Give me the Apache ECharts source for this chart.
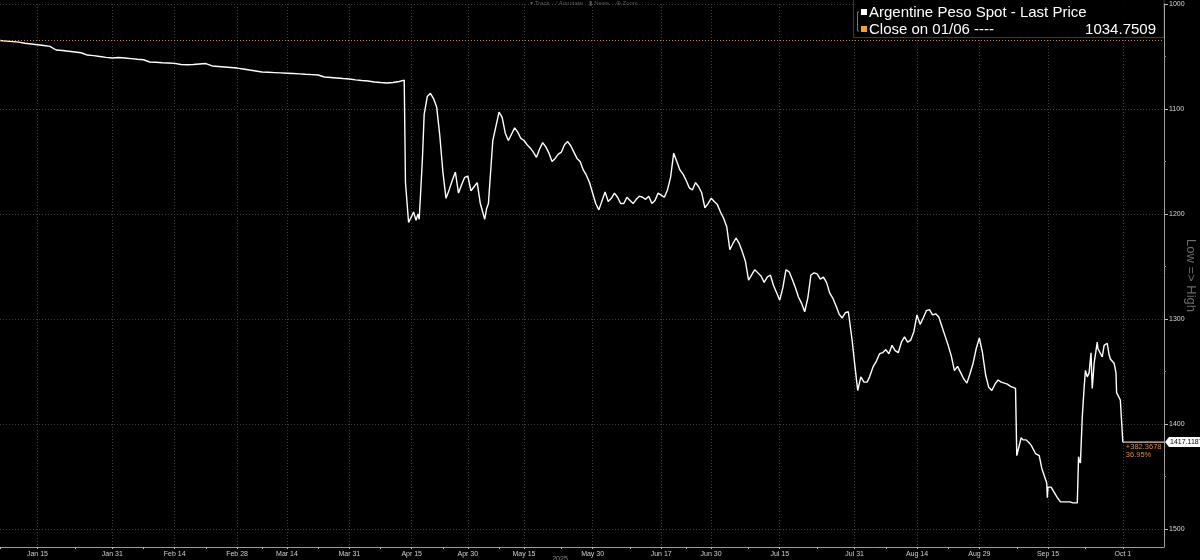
<!DOCTYPE html>
<html><head><meta charset="utf-8">
<style>html,body{margin:0;padding:0;background:#000;}#c{width:1200px;height:560px;}</style>
<script src="https://cdn.jsdelivr.net/npm/echarts@6/dist/echarts.min.js"></script>
</head><body><div id="c"></div>
<script>
// Trading days on the axis (2025); day index 0 = Jan 7
const tradingDays = {
  Jan:[7,8,9,10,13,14,15,16,17,20,21,22,23,24,27,28,29,30,31],
  Feb:[3,4,5,6,7,10,11,12,13,14,17,18,19,20,21,24,25,26,27,28],
  Mar:[5,6,7,10,11,12,13,14,17,18,19,20,21,25,26,27,28,31],
  Apr:[1,3,4,7,8,9,10,11,14,15,16,21,22,23,24,25,28,29,30],
  May:[5,6,7,8,9,12,13,14,15,16,19,20,21,22,23,26,27,28,29,30],
  Jun:[2,3,4,5,6,9,10,11,12,13,17,18,19,23,24,25,26,27,30],
  Jul:[1,2,3,4,7,8,9,10,11,14,15,16,17,18,21,22,23,24,25,28,29,30,31],
  Aug:[1,4,5,6,7,8,11,12,13,14,18,19,20,21,22,25,26,27,28,29],
  Sep:[1,2,3,4,5,8,9,10,11,12,15,16,17,18,19,22,23,24,25,26,29,30],
  Oct:[1,2,3,6,7,8,9]
};
// Tick labels on the date axis
const tickLabels = ['Jan 15','Jan 31','Feb 14','Feb 28','Mar 14','Mar 31','Apr 15','Apr 30','May 15','May 30','Jun 17','Jun 30','Jul 15','Jul 31','Aug 14','Aug 29','Sep 15','Oct 1'];
const yTicks = [1000, 1100, 1200, 1300, 1400, 1500];
const yMinorTicks = [1050, 1150, 1250, 1350, 1450];
// USD/ARS spot, daily last price (day index 0..180)
const price = [
 1034.8,1035.3,1035.8,1036.3,1037.4,1038.1,1038.8,1039.5,1040.3,1043.8,
 1044.3,1045.0,1045.7,1046.4,1048.6,1049.2,1050.0,1050.8,1051.4,1050.9,
 1051.4,1052.0,1052.6,1053.1,1055.2,1055.5,1055.9,1056.2,1056.5,1057.6,
 1057.8,1057.6,1057.1,1056.7,1059.0,1059.5,1060.0,1060.5,1061.0,1061.9,
 1062.9,1063.8,1064.8,1065.0,1065.3,1065.6,1065.9,1066.2,1066.5,1066.9,
 1067.2,1067.6,1069.5,1070.0,1070.5,1071.0,1071.4,1072.2,1072.9,1073.3,
 1074.3,1074.8,1075.2,1074.8,1073.8,1170,1202,1200,1105,1085,
 1098,1160,1177,1160,1172,1164,1174,1190,1195,1130,
 1103,1123,1124,1122,1130,1137,1146,1132,1142,1147,
 1141,1131,1141,1150,1163,1180,1196,1179,1185,1184,
 1190,1187,1186,1184,1183,1187,1182,1177,1142,1158,
 1168,1177,1174,1194,1185,1191,1204,1234,1223,1236,
 1263,1253,1259,1260,1268,1282,1253,1262,1279,1293,
 1258,1257,1260,1275,1287,1299,1293,1342,1355,1360,
 1345,1333,1329,1325,1332,1317,1320,1296,1299,1291,
 1295,1307,1325,1349,1351,1361,1342,1318,1353,1368,
 1358,1361,1364,1430,1415,1418,1428,1442,1460,1465,
 1474,1474,1475,1435,1349,1350,1328,1325,1338,1370,
 1417.1187
];
// Intraday points [day index, price]
const intraday = [
 [64.8,1072.5],[65.5,1208],[66.3,1198],[66.7,1206],[67.2,1205],[67.7,1150],[68.5,1088],[69.5,1090],[70.5,1125],
 [71.5,1185],[72.5,1168],[73.5,1180],[74.5,1165],[75.5,1178],[76.5,1170],[77.7,1205],[78.3,1190],
 [80.5,1108],[81.5,1130],[82.5,1118],[83.5,1128],[84.5,1134],[85.5,1141],[86.5,1138],[87.5,1136],[88.5,1150],
 [89.5,1143],[90.5,1134],[91.5,1135],[92.5,1147],[93.5,1158],[94.5,1170],[95.5,1190],
 [97.5,1188],[98.5,1180],[99.5,1190],[100.5,1184],[101.5,1190],[102.5,1183],[103.5,1186],[104.5,1190],[105.5,1180],
 [106.5,1184],[107.5,1165],[108.5,1150],[109.5,1162],[110.5,1175],[111.5,1170],[112.5,1180],[113.5,1190],[114.5,1188],
 [115.5,1198],[116.5,1212],[117.5,1228],[118.5,1228],[119.5,1245],[120.5,1258],[121.5,1256],[122.5,1265],[123.5,1258],
 [124.5,1275],[125.5,1270],[126.5,1255],[127.5,1270],[128.5,1285],[129.5,1280],[130.5,1256],[131.5,1262],[132.5,1265],
 [133.5,1280],[134.5,1295],[135.5,1294],[136.6,1320],[137.5,1368],[138.5,1360],[139.4,1355],[140.5,1340],[141.5,1332],
 [142.5,1333],[143.5,1330],[144.5,1322],[145.5,1322],[146.5,1312],[147.5,1305],[148.5,1292],[149.5,1296],[150.5,1298],
 [151.5,1316],[152.5,1335],[153.5,1345],[154.5,1357],[155.5,1352],[156.5,1328],[157.5,1332],[158.5,1365],[159.5,1362],
 [160.5,1360],[161.5,1362],[162.8,1366],[163.7,1413],[164.5,1415],[165.3,1420],[166.6,1430],[167.8,1456],[167.9,1470],
 [168.5,1460],[169.5,1470],[170.5,1474],[171.5,1474],[172.7,1475],[172.9,1431],[173.2,1437],[173.5,1393],[173.8,1365],
 [174.3,1355],[174.6,1351],[174.9,1332],[175.1,1366],[175.4,1342],[175.9,1322],[176.7,1336],[177.5,1323],[177.8,1334],
 [178.6,1342],[178.9,1351],[179.1,1370],[179.6,1377]
];
const closeRef = 1034.7509;
const closeLabel = 'Close on 01/06';
const seriesName = 'Argentine Peso Spot - Last Price';

const months = ['Jan','Feb','Mar','Apr','May','Jun','Jul','Aug','Sep','Oct'];
const categories = [];
months.forEach(m => tradingDays[m].forEach(d => categories.push(m + ' ' + d)));
const labelArr = tickLabels.map(l => categories.indexOf(l));
const midArr = [0];
for (let i = 0; i < labelArr.length - 1; i++) midArr.push(Math.round((labelArr[i] + labelArr[i+1]) / 2));

const points = price.map((v, i) => [i, v]).concat(intraday).sort((a, b) => a[0] - b[0]);
const lastDay = price.length - 1;
const last = price[lastDay];
const diff = last - closeRef;
const pct = diff / closeRef * 100;
const xMax = 186.6;

const FONT = '"Liberation Sans", Arial, sans-serif';
const chart = echarts.init(document.getElementById('c'), null, {renderer: 'canvas'});
chart.setOption({
  backgroundColor: '#000',
  animation: false,
  grid: {left: 0, right: 36, top: 4, bottom: 13, containLabel: false, outerBoundsMode: 'none'},
  xAxis: [{
    type: 'value', min: 0, max: xMax,
    axisLine: {onZero: false, lineStyle: {color: '#9a9a9a', width: 1}},
    axisTick: {show: true, length: 2, customValues: labelArr, lineStyle: {color: '#bbb'}},
    axisLabel: {customValues: labelArr, formatter: v => categories[Math.round(v)], color: '#d0d0d0', fontSize: 7, margin: 4, fontFamily: FONT},
    splitLine: {show: true, lineStyle: {color: '#3c3c3c', type: [1, 2]}}
  }, {
    type: 'value', min: 0, max: xMax, position: 'bottom',
    axisLine: {show: false, onZero: false},
    axisTick: {show: true, length: 2, customValues: midArr, lineStyle: {color: '#bbb'}},
    axisLabel: {show: false}, splitLine: {show: false}
  }],
  yAxis: [{
    type: 'value', position: 'right', inverse: true, min: 1000, max: 1517,
    axisLine: {show: true, onZero: false, lineStyle: {color: '#a0a0a0', width: 1}},
    axisTick: {show: true, length: 4, customValues: yTicks, lineStyle: {color: '#bbb'}},
    axisLabel: {customValues: yTicks, formatter: v => String(v), color: '#d8d8d8', fontSize: 7, margin: 5, fontFamily: FONT},
    splitLine: {show: true, lineStyle: {color: '#3c3c3c', type: [1, 2]}},
    name: 'Low => High', nameLocation: 'middle', nameRotate: -90, nameGap: 20, nameMoveOverlap: false,
    nameTextStyle: {color: '#6a6a6a', fontSize: 13, fontFamily: FONT}
  }, {
    type: 'value', position: 'right', inverse: true, min: 1000, max: 1517,
    axisLine: {show: false, onZero: false},
    axisTick: {show: true, length: 2, customValues: yMinorTicks, lineStyle: {color: '#888'}},
    axisLabel: {show: false}, splitLine: {show: false}
  }],
  series: [{
    name: seriesName, type: 'line', data: points, showSymbol: false, symbol: 'none',
    lineStyle: {color: '#ffffff', width: 1.4},
    markLine: {
      silent: true, symbol: 'none', label: {show: false},
      lineStyle: {color: '#d4802a', type: [1, 2], width: 1},
      data: [{yAxis: closeRef}]
    }
  }]
});

const xLast = chart.convertToPixel({xAxisIndex: 0}, lastDay);
const yLast = chart.convertToPixel({yAxisIndex: 0}, last);
const axisX = chart.convertToPixel({xAxisIndex: 0}, xMax);
chart.setOption({
  graphic: [
    {type: 'text', left: 530, top: 0, style: {text: '▾ Track    ⁄ Annotate    ▮ News    ⊕ Zoom', fill: '#5a5a5a', font: '6px ' + FONT}},
    {type: 'rect', shape: {x: 853.5, y: -1, width: axisX - 853.5, height: 38.5}, style: {fill: 'rgba(0,0,0,0.88)', stroke: '#3a3a3a', lineWidth: 1}},
    {type: 'polyline', shape: {points: [[859, 12], [857.5, 12], [857.5, 31], [859, 31]]}, style: {stroke: '#777', lineWidth: 1}},
    {type: 'rect', shape: {x: 861, y: 9, width: 6, height: 6}, style: {fill: '#ffffff'}},
    {type: 'text', x: 869, y: 13, style: {text: seriesName, fill: '#ffffff', font: '15px ' + FONT, verticalAlign: 'middle'}},
    {type: 'rect', shape: {x: 861, y: 26, width: 6, height: 6}, style: {fill: '#f0a030'}},
    {type: 'text', x: 869, y: 29.5, style: {text: closeLabel + ' ----', fill: '#ffffff', font: '15px ' + FONT, verticalAlign: 'middle'}},
    {type: 'text', x: 1156, y: 29.5, style: {text: closeRef.toFixed(4), fill: '#ffffff', font: '15px ' + FONT, align: 'right', verticalAlign: 'middle'}},
    {type: 'line', shape: {x1: xLast, y1: yLast, x2: axisX, y2: yLast}, style: {stroke: '#ffffff', lineWidth: 1}},
    {type: 'polygon', shape: {points: [[axisX + 1, yLast], [axisX + 5, yLast - 5], [1200, yLast - 5], [1200, yLast + 5], [axisX + 5, yLast + 5]]}, style: {fill: '#ffffff'}},
    {type: 'text', x: axisX + 6, y: yLast, style: {text: last.toFixed(4), fill: '#000', font: '7px ' + FONT, verticalAlign: 'middle'}},
    {type: 'text', x: xLast + 3, y: yLast + 4.5, style: {text: '+' + diff.toFixed(4), fill: '#e08a2a', font: '7.5px ' + FONT, verticalAlign: 'middle'}},
    {type: 'text', x: xLast + 3, y: yLast + 13, style: {text: pct.toFixed(2) + '%', fill: '#e08a2a', font: '7.5px ' + FONT, verticalAlign: 'middle'}},
    {type: 'text', x: 560, y: 556, style: {text: '2025', fill: '#888', font: '7px ' + FONT, align: 'center', verticalAlign: 'top'}}
  ]
});
</script></body></html>
